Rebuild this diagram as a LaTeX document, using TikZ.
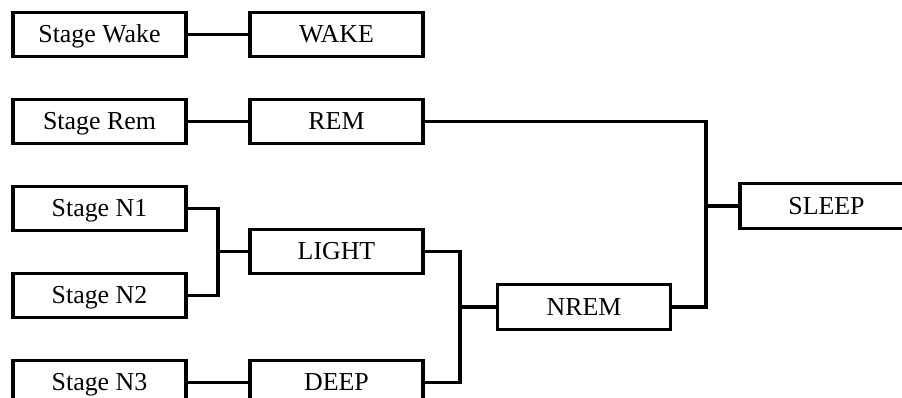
\documentclass[tikz,border=0pt]{standalone}
\usepackage{fontspec}
\setmainfont{Liberation Serif}
\begin{document}
\begin{tikzpicture}[x=0.75pt,y=-0.75pt,
  box/.style={draw,line width=2.4pt,minimum width=129.75pt,minimum height=33.5pt,inner sep=0pt,text height=12.6pt,text depth=0pt,font=\fontsize{19.4}{22}\selectfont},
  link/.style={line width=2.4pt}]
\useasboundingbox (0,0) rectangle (902,398);
\clip (0,0) rectangle (902,398);
\fill[white] (0,0) rectangle (902,398);
\node[box] (swake) at (99.5,34.5) {Stage Wake};
\node[box] (wake) at (336.5,34.5) {WAKE};
\node[box] (srem) at (99.5,121.5) {Stage Rem};
\node[box] (rem) at (336.5,121.5) {REM};
\node[box] (sn1) at (99.5,208.5) {Stage N1};
\node[box] (sn2) at (99.5,295.5) {Stage N2};
\node[box] (light) at (336.5,251.5) {LIGHT};
\node[box] (sn3) at (99.5,382.5) {Stage N3};
\node[box] (deep) at (336.5,382.5) {DEEP};
\node[box] (nrem) at (584,307) {NREM};
\node[box] (sleep) at (826.5,206) {SLEEP};
\coordinate (j1) at (218,251.5);
\coordinate (j2) at (460,307);
\coordinate (j3) at (706,206);
\draw[link] (swake) -- (wake);
\draw[link] (srem) -- (rem);
\draw[link] (sn3) -- (deep);
\draw[link] (sn1.east) -| (j1) -- (light.west);
\draw[link] (sn2.east) -| (j1);
\draw[link] (light.east) -| (j2) -- (nrem.west);
\draw[link] (deep.east) -| (j2);
\draw[link] (rem.east) -| (j3) -- (sleep.west);
\draw[link] (nrem.east) -| (j3);
\end{tikzpicture}
\end{document}
